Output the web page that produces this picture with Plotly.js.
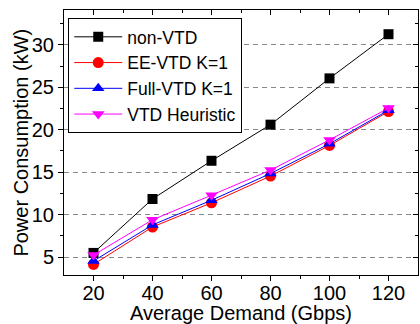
<!DOCTYPE html>
<html>
<head>
<meta charset="utf-8">
<script src="https://cdn.plot.ly/plotly-3.0.1.min.js"></script>
<style>html,body{margin:0;padding:0;background:#fff;}#chart{width:420px;height:324px;}</style>
</head>
<body>
<div id="chart"></div>
<script>
const demand = [20, 40, 60, 80, 100, 120];
const nonVTD = [5.5, 11.85, 16.35, 20.6, 26.05, 31.25];
const eeVTD = [4.15, 8.55, 11.4, 14.55, 18.15, 22.15];
const fullVTD = [4.55, 8.8, 11.7, 14.85, 18.35, 22.3];
const vtdHeuristic = [5.25, 9.4, 12.3, 15.25, 18.8, 22.55];
const seriesNames = ['non-VTD', 'EE-VTD K=1', 'Full-VTD K=1', 'VTD Heuristic'];
const xTitle = 'Average Demand (Gbps)';
const yTitle = 'Power Consumption (kW)';
const xMinor = [30, 50, 70, 90, 110];
const yMajor = [5, 10, 15, 20, 25, 30];
const yMinor = [7.5, 12.5, 17.5, 22.5, 27.5, 32.5];

const xr = [10, 130];
const yr = [2.9, 34.1];
const fam = 'Liberation Sans, Arial, sans-serif';
const fnt = {family: fam, size: 20, color: '#000'};

function tr(y, name, color, symbol, size) {
  return {x: demand, y: y, name: name, type: 'scatter', mode: 'lines+markers',
    line: {color: color, width: 1},
    marker: {color: color, symbol: symbol, size: size, line: {width: 0}}};
}

const data = [
  tr(nonVTD, seriesNames[0], '#000000', 'square', 10),
  tr(eeVTD, seriesNames[1], '#ff0000', 'circle', 11),
  tr(fullVTD, seriesNames[2], '#0000ff', 'triangle-up', 11),
  tr(vtdHeuristic, seriesNames[3], '#ff00ff', 'triangle-down', 11),
  {x: [xr[0]], y: [yr[0]], xaxis: 'x2', yaxis: 'y2', mode: 'markers', marker: {opacity: 0}, showlegend: false, hoverinfo: 'skip'},
  {x: [xr[0]], y: [yr[0]], xaxis: 'x3', yaxis: 'y', mode: 'markers', marker: {opacity: 0}, showlegend: false, hoverinfo: 'skip'}
];

const tickOnly = (side, dir, vals, minorVals, ov) => ({
  overlaying: ov, side: side, ticks: dir, ticklen: 5, tickcolor: '#000',
  tickvals: vals, showticklabels: false, showgrid: false, zeroline: false, showline: false,
  minor: {ticks: dir, tickvals: minorVals, ticklen: 3, tickcolor: '#000', showgrid: false}
});

const layout = {
  width: 420, height: 324,
  margin: {l: 64, r: 2, t: 10, b: 49},
  paper_bgcolor: '#fff', plot_bgcolor: '#fff',
  font: fnt,
  showlegend: true,
  legend: {x: 0.012, y: 0.97, xanchor: 'left', yanchor: 'top',
    bordercolor: '#000', borderwidth: 1, bgcolor: '#fff',
    font: {family: fam, size: 17.5, color: '#000'}, tracegroupgap: 0, itemwidth: 48},
  xaxis: {range: xr, showline: true, linecolor: '#000', linewidth: 1, mirror: true,
    ticks: '', tickvals: demand, ticktext: demand.map(String),
    showgrid: false, zeroline: false, tickfont: fnt, automargin: false},
  yaxis: {range: yr, showline: true, linecolor: '#000', linewidth: 1, mirror: true,
    ticks: 'outside', ticklen: 5, tickcolor: '#000', tickvals: yMajor,
    minor: {ticks: 'outside', tickvals: yMinor, ticklen: 3, tickcolor: '#000', showgrid: false},
    showgrid: true, gridcolor: '#888', griddash: '5px,4px', gridwidth: 1, zeroline: false, tickfont: fnt, automargin: false},
  xaxis2: Object.assign({range: xr}, tickOnly('top', 'inside', demand, xMinor, 'x')),
  xaxis3: Object.assign({range: xr}, tickOnly('bottom', 'outside', demand, xMinor, 'x')),
  yaxis2: Object.assign({range: yr}, tickOnly('right', 'inside', yMajor, yMinor, 'y')),
  annotations: [
    {text: xTitle, xref: 'paper', yref: 'paper', x: 0.5, y: -0.145, xanchor: 'center', yanchor: 'middle',
      showarrow: false, font: fnt},
    {text: yTitle, xref: 'paper', yref: 'paper', x: -0.124, y: 0.5, xanchor: 'center', yanchor: 'middle',
      textangle: -90, showarrow: false, font: fnt}
  ]
};

Plotly.newPlot('chart', data, layout, {displayModeBar: false, staticPlot: true});
</script>
</body>
</html>
